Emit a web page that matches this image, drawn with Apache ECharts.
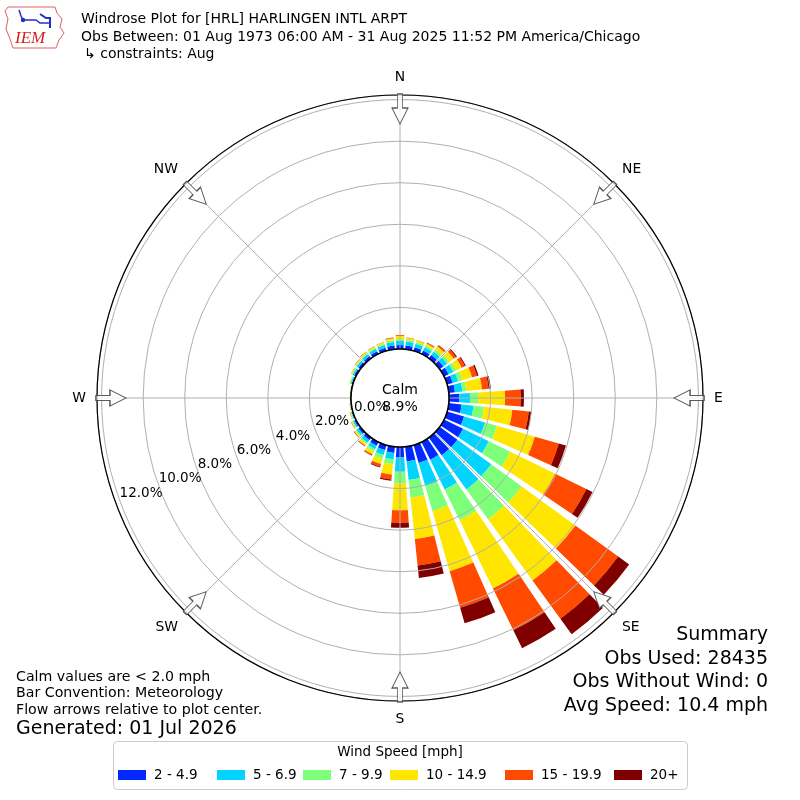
<!DOCTYPE html>
<html><head><meta charset="utf-8">
<script src="https://cdn.jsdelivr.net/npm/echarts@6/dist/echarts.min.js"></script>
<style>html,body{margin:0;padding:0;background:#fff}#c{width:800px;height:800px}</style>
</head><body><div id="c"></div>
<script>
// ---- data ----
const directions = ['0','10','20','30','40','50','60','70','80','90','100','110','120','130','140','150','160','170',
  '180','190','200','210','220','230','240','250','260','270','280','290','300','310','320','330','340','350'];
const speedBins = ['2 - 4.9','5 - 6.9','7 - 9.9','10 - 14.9','15 - 19.9','20+'];
const bin2to5 = [0.19,0.18,0.18,0.18,0.20,0.22,0.25,0.28,0.30,0.50,0.62,0.85,1.02,1.06,1.05,0.95,0.89,0.71,0.50,0.30,0.25,0.20,0.15,0.12,0.09,0.05,0.03,0.02,0.03,0.06,0.10,0.12,0.14,0.15,0.16,0.18];
const bin5to7 = [0.20,0.19,0.18,0.18,0.20,0.23,0.25,0.27,0.36,0.51,0.58,1.05,1.38,2.01,2.03,1.59,1.16,0.90,0.69,0.30,0.25,0.18,0.15,0.12,0.08,0.05,0.02,0.02,0.02,0.06,0.08,0.10,0.12,0.13,0.14,0.17];
const bin7to10 = [0.09,0.09,0.09,0.10,0.12,0.13,0.15,0.20,0.19,0.40,0.50,0.60,1.15,1.81,1.77,1.65,1.25,0.84,0.56,0.25,0.18,0.12,0.08,0.06,0.04,0.02,0.02,0.01,0.02,0.03,0.05,0.06,0.07,0.07,0.07,0.09];
const bin10to15 = [0.15,0.09,0.08,0.10,0.18,0.27,0.30,0.50,0.76,1.29,1.38,1.89,2.40,3.19,3.64,3.65,3.01,2.01,1.29,0.50,0.27,0.16,0.10,0.07,0.05,0.03,0.01,0.01,0.01,0.03,0.04,0.05,0.06,0.06,0.06,0.09];
const bin15to20 = [0.04,0.02,0.02,0.04,0.08,0.13,0.17,0.25,0.32,0.75,0.79,1.20,1.67,2.55,2.28,2.24,1.83,1.28,0.61,0.23,0.13,0.06,0.04,0.02,0.02,0.01,0.01,0.00,0.00,0.00,0.01,0.02,0.02,0.02,0.02,0.03];
const bin20plus = [0.00,0.00,0.00,0.01,0.02,0.05,0.05,0.07,0.11,0.16,0.13,0.36,0.33,0.65,0.92,0.96,0.78,0.61,0.24,0.07,0.04,0.02,0.01,0.01,0.00,0.00,0.00,0.00,0.00,0.00,0.00,0.00,0.00,0.00,0.00,0.01];
const radialTicks = [0,2,4,6,8,10,12];
const compassAngles = [0,45,90,135,180,225,270,315];
const compassLabels = ['N','NE','E','SE','S','SW','W','NW'];
const calmPercent = 8.9;

// ---- styling ----
const binValues = [bin2to5, bin5to7, bin7to10, bin10to15, bin15to20, bin20plus];
const colors = ['#0028ff','#00d4ff','#7dff7a','#ffe600','#ff4a00','#800000'];
const legendLefts = [118, 217, 303, 390, 505, 614];
const FONT = 'DejaVu Sans';
const RMAX = 12.22;
const CENTER = [400, 398];
const RADIUS = [49, 303];
const ARROW_R = 11.55;

const chart = echarts.init(document.getElementById('c'), null, {renderer:'canvas', width:800, height:800});

const series = speedBins.map((name, i) => ({
  type: 'bar', name: name, coordinateSystem: 'polar', polarIndex: 0, stack: 'wind',
  data: binValues[i], itemStyle: {color: colors[i]}, barCategoryGap: '20%', z: 2, silent: true
}));
series.push({
  type: 'scatter', name: 'arrows', coordinateSystem: 'polar', polarIndex: 1,
  data: compassAngles.map(a => [ARROW_R, a]),
  symbol: 'path://M5.5,0 L10.5,0 L10.5,14 L16,14 L8,30 L0,14 L5.5,14 Z',
  symbolSize: [16, 30],
  symbolRotate: function (v) { return -v[1]; },
  itemStyle: {color: '#ffffff', borderColor: '#333333', borderWidth: 1.1},
  z: 8, silent: true
});

const textStyle = (size) => ({fontFamily: FONT, fontSize: size, fill: '#000'});

const legends = speedBins.map((name, i) => ({
  data: [name], left: legendLefts[i], top: 768, orient: 'horizontal',
  icon: 'rect', itemWidth: 28, itemHeight: 10, padding: 0,
  textStyle: {fontFamily: FONT, fontSize: 13.5, color: '#000', padding: [0, 0, 0, 3]},
  selectedMode: false, z: 5
}));

const option = {
  animation: false,
  backgroundColor: '#ffffff',
  polar: [
    {center: CENTER, radius: RADIUS},
    {center: CENTER, radius: RADIUS},
    {center: CENTER, radius: RADIUS}
  ],
  angleAxis: [
    {polarIndex: 0, type: 'category', data: directions, startAngle: 95, clockwise: true, boundaryGap: true,
      axisLine: {show: true, lineStyle: {color: '#000', width: 1.2}}, axisTick: {show: false},
      axisLabel: {show: false}, splitLine: {show: false}, z: 6},
    {polarIndex: 1, type: 'value', min: 0, max: 360, interval: 45, startAngle: 90, clockwise: true,
      axisLine: {show: false}, axisTick: {show: false},
      splitLine: {show: true, lineStyle: {color: '#b0b0b0', width: 1}},
      axisLabel: {show: true, margin: 11, fontFamily: FONT, fontSize: 13.9, color: '#000',
        formatter: function (v) { const k = compassAngles.indexOf(v); return k >= 0 ? compassLabels[k] : ''; }},
      z: 5},
    {polarIndex: 2, type: 'value', min: 0, max: 360, startAngle: 200, clockwise: true, show: false}
  ],
  radiusAxis: [
    {polarIndex: 0, type: 'value', min: 0, max: RMAX, interval: 2,
      axisLine: {show: false}, axisTick: {show: false}, axisLabel: {show: false},
      splitLine: {show: true, lineStyle: {color: '#b0b0b0', width: 1}}, z: 5},
    {polarIndex: 1, type: 'value', min: 0, max: RMAX, show: false},
    {polarIndex: 2, type: 'value', min: 0, max: RMAX, interval: 2,
      axisLine: {show: false}, axisTick: {show: false}, splitLine: {show: false},
      axisLabel: {show: true, margin: 0, align: 'left', verticalAlign: 'bottom',
        fontFamily: FONT, fontSize: 13.5, color: '#000',
        formatter: function (v) { return radialTicks.indexOf(v) >= 0 ? v.toFixed(1) + '%' : ''; }},
      z: 20}
  ],
  legend: legends,
  graphic: {
    elements: [
      {type: 'circle', shape: {cx: CENTER[0], cy: CENTER[1], r: RADIUS[0]}, style: {fill: '#fff', stroke: '#000', lineWidth: 1.5}, z: 10, silent: true},
      {type: 'text', x: 400, y: 390, style: Object.assign(textStyle(14), {text: 'Calm', align: 'center', verticalAlign: 'middle'}), z: 11},
      {type: 'text', x: 400, y: 407, style: Object.assign(textStyle(14), {text: calmPercent.toFixed(1) + '%', align: 'center', verticalAlign: 'middle'}), z: 11},
      // titles
      {type: 'text', x: 81, y: 19, style: Object.assign(textStyle(14), {text: 'Windrose Plot for [HRL] HARLINGEN INTL ARPT', verticalAlign: 'middle'})},
      {type: 'text', x: 81, y: 37, style: Object.assign(textStyle(14), {text: 'Obs Between: 01 Aug 1973 06:00 AM - 31 Aug 2025 11:52 PM America/Chicago', verticalAlign: 'middle'})},
      {type: 'text', x: 84, y: 54, style: Object.assign(textStyle(14), {text: '\u21b3 constraints: Aug', verticalAlign: 'middle'})},
      // IEM logo
      {type: 'polyline', shape: {points: [[8,7],[55,7],[57,13],[62,19],[60,27],[64,33],[59,40],[56,48],[13,48],[10,39],[6,29],[8,19],[5,11],[8,7]]},
        style: {stroke: '#e06060', lineWidth: 1, fill: null}},
      {type: 'text', x: 15, y: 39, style: {text: 'IEM', fontFamily: 'Liberation Serif', fontStyle: 'italic', fontSize: 17, fill: '#d42020', verticalAlign: 'middle'}},
      {type: 'polyline', shape: {points: [[19,10],[21,16],[23,20],[36,20],[40,23],[50,23]]}, style: {stroke: '#2030c0', lineWidth: 1.5, fill: null}},
      {type: 'polyline', shape: {points: [[40,14],[46,18],[50,18],[50,28]]}, style: {stroke: '#2030c0', lineWidth: 2, fill: null}},
      {type: 'circle', shape: {cx: 23, cy: 20, r: 2.2}, style: {fill: '#2030c0'}},
      // bottom left notes
      {type: 'text', x: 16, y: 677, style: Object.assign(textStyle(14.2), {text: 'Calm values are < 2.0 mph', verticalAlign: 'middle'})},
      {type: 'text', x: 16, y: 693, style: Object.assign(textStyle(14.2), {text: 'Bar Convention: Meteorology', verticalAlign: 'middle'})},
      {type: 'text', x: 16, y: 710, style: Object.assign(textStyle(14.2), {text: 'Flow arrows relative to plot center.', verticalAlign: 'middle'})},
      {type: 'text', x: 16, y: 729, style: Object.assign(textStyle(19), {text: 'Generated: 01 Jul 2026', verticalAlign: 'middle'})},
      // summary
      {type: 'text', x: 768, y: 635, style: Object.assign(textStyle(19), {text: 'Summary', align: 'right', verticalAlign: 'middle'})},
      {type: 'text', x: 768, y: 659, style: Object.assign(textStyle(19), {text: 'Obs Used: 28435', align: 'right', verticalAlign: 'middle'})},
      {type: 'text', x: 768, y: 682, style: Object.assign(textStyle(19), {text: 'Obs Without Wind: 0', align: 'right', verticalAlign: 'middle'})},
      {type: 'text', x: 768, y: 706, style: Object.assign(textStyle(19), {text: 'Avg Speed: 10.4 mph', align: 'right', verticalAlign: 'middle'})},
      // legend box and title
      {type: 'rect', shape: {x: 113.5, y: 741.5, width: 574, height: 48, r: 4}, style: {fill: '#ffffff', stroke: '#cccccc', lineWidth: 1}, z: 0, silent: true},
      {type: 'text', x: 400, y: 752, style: Object.assign(textStyle(13.5), {text: 'Wind Speed [mph]', align: 'center', verticalAlign: 'middle'}), z: 20}
    ]
  },
  series: series
};
chart.setOption(option);
</script>
</body></html>
